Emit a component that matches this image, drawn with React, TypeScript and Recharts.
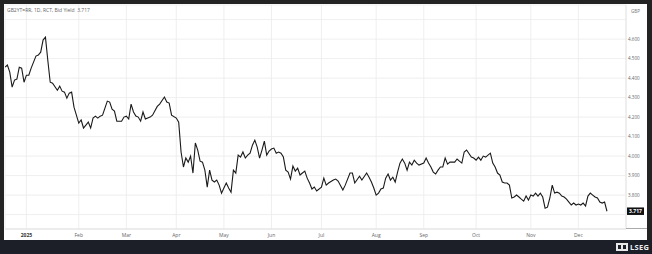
import { LineChart, Line, XAxis, YAxis, CartesianGrid, ReferenceLine } from 'recharts';

// trading-day index (0 = first session of 2025) and bid yield
const tradingDays = [
  -9, -8, -7, -6, -5, -4, -3, -2, -1, 0, 1, 2, 4, 5, 6, 7, 8, 9, 10, 11, 13, 14, 15, 16, 17, 18, 19, 20,
  21, 22, 23, 24, 25, 26, 27, 28, 29, 30, 31, 32, 33, 34, 35, 36, 37, 38, 39, 40, 41, 42, 43, 44, 45, 46,
  47, 48, 49, 50, 51, 52, 53, 55, 56, 58, 59, 60, 61, 63, 64, 65, 66, 67, 68, 69, 70, 71, 72, 73, 74, 75,
  76, 77, 78, 79, 80, 81, 82, 83, 84, 85, 86, 87, 88, 89, 90, 91, 92, 93, 94, 95, 96, 97, 98, 99, 100,
  101, 102, 103, 104, 105, 106, 107, 108, 109, 110, 111, 112, 113, 114, 115, 116, 117, 118, 119, 120,
  121, 122, 124, 125, 126, 127, 129, 130, 131, 133, 134, 136, 137, 138, 140, 141, 143, 144, 145, 146,
  147, 148, 149, 150, 151, 152, 153, 154, 155, 156, 157, 158, 159, 160, 161, 162, 163, 164, 165, 167,
  168, 169, 170, 171, 172, 173, 174, 175, 176, 177, 178, 180, 181, 182, 183, 184, 185, 187, 188, 189,
  190, 191, 192, 193, 194, 195, 196, 197, 198, 199, 200, 201, 202, 203, 204, 205, 206, 207, 208, 209,
  210, 211, 212, 213, 214, 215, 216, 217, 218, 219, 220, 221, 222, 223, 224, 225, 226, 227, 228, 229,
  230, 231, 232, 233, 234, 235, 236, 237, 238, 239, 240, 241, 242, 243, 244,
];

const bidYield = [
  4.456, 4.467, 4.431, 4.354, 4.39, 4.395, 4.456, 4.451, 4.379, 4.415, 4.415, 4.451, 4.513, 4.518, 4.533,
  4.595, 4.61, 4.49, 4.379, 4.374, 4.338, 4.359, 4.333, 4.328, 4.297, 4.323, 4.328, 4.251,
  4.21, 4.169, 4.185, 4.144, 4.159, 4.174, 4.144, 4.195, 4.205, 4.195, 4.205, 4.21, 4.246, 4.282, 4.277,
  4.241, 4.231, 4.179, 4.179, 4.179, 4.2, 4.205, 4.19, 4.267, 4.226, 4.205,
  4.2, 4.179, 4.226, 4.19, 4.195, 4.2, 4.21, 4.255, 4.267, 4.303, 4.277, 4.272, 4.21, 4.195, 4.174, 4.021,
  3.944, 3.99, 3.969, 4.0, 3.913, 4.067, 4.031, 3.974, 3.969, 3.928,
  3.841, 3.928, 3.877, 3.867, 3.877, 3.851, 3.81, 3.836, 3.862, 3.836, 3.815, 3.928, 3.913, 4.005, 3.995,
  4.021, 3.99, 4.005, 4.015, 4.056, 4.082, 4.046, 3.99, 4.031, 4.077,
  4.005, 4.026, 4.036, 4.041, 4.015, 4.021, 4.015, 3.995, 3.928, 3.918, 3.882, 3.949, 3.923, 3.938, 3.903,
  3.913, 3.923, 3.887, 3.862, 3.831,
  3.841, 3.821, 3.841, 3.887, 3.851, 3.862, 3.877, 3.882, 3.872, 3.826, 3.851, 3.913, 3.913, 3.862, 3.897,
  3.877, 3.913, 3.892, 3.867, 3.836,
  3.8, 3.81, 3.831, 3.836, 3.887, 3.908, 3.877, 3.892, 3.867, 3.918, 3.964, 3.985, 3.964, 3.928, 3.969,
  3.954, 3.979, 3.964, 3.954, 3.964,
  3.99, 3.964, 3.944, 3.918, 3.908, 3.928, 3.944, 3.944, 3.99, 3.959, 3.969, 3.969, 3.985, 3.974, 3.964,
  4.021, 4.031, 3.995, 3.99, 3.979,
  3.995, 3.979, 4.0, 3.995, 4.005, 4.015, 3.964, 3.944, 3.913, 3.903, 3.867, 3.862, 3.862, 3.851, 3.785,
  3.79, 3.8, 3.79, 3.779, 3.769,
  3.795, 3.774, 3.8, 3.795, 3.81, 3.795, 3.81, 3.79, 3.733, 3.738, 3.785, 3.851, 3.81, 3.815, 3.81, 3.795,
  3.79, 3.779, 3.764, 3.749,
  3.759, 3.749, 3.754, 3.749, 3.759, 3.744, 3.795, 3.81, 3.8, 3.79, 3.785, 3.764, 3.759, 3.764, 3.717,
];

const monthTicks = [0, 22, 42, 63, 83, 103, 124, 147, 167, 189, 212, 232];
const monthLabels = ['2025', 'Feb', 'Mar', 'Apr', 'May', 'Jun', 'Jul', 'Aug', 'Sep', 'Oct', 'Nov', 'Dec'];
const yieldTicks = [3.7, 3.8, 3.9, 4.0, 4.1, 4.2, 4.3, 4.4, 4.5, 4.6, 4.7];
const lastYield = 3.717;

const chartData = tradingDays.map((d, i) => ({ day: d, bid: bidYield[i] }));

const FONT = '"Open Sans", "Noto Sans", sans-serif';

function MonthTick(props: any) {
  const { x, y, payload } = props;
  const idx = monthTicks.indexOf(payload.value);
  const first = idx === 0;
  return (
    <text x={x} y={y} dy={8} textAnchor="middle" fontSize={5} fontFamily={FONT}
      fill={first ? '#333' : '#666'} fontWeight={first ? 700 : 400}>
      {monthLabels[idx]}
    </text>
  );
}

function YieldTick(props: any) {
  const { x, y, payload } = props;
  // top gridline carries no label; the 3.700 label sits under the price tag
  if (payload.value > 4.65 || payload.value < 3.75) return null;
  return (
    <text x={x} y={y} dy={1.7} textAnchor="start" fontSize={4.6} fontFamily={FONT} fill="#666">
      {payload.value.toFixed(3)}
    </text>
  );
}

function PriceTag(props: any) {
  const vb = props.viewBox;
  if (!vb) return null;
  const x = vb.x + vb.width + 1;
  return (
    <g>
      <rect x={x} y={vb.y - 3.8} width={17} height={7.5} fill="#111" />
      <text x={x + 8.5} y={vb.y} dy={1.8} textAnchor="middle" fontSize={5} fontWeight={700}
        fontFamily={FONT} fill="#fff">
        {lastYield.toFixed(3)}
      </text>
    </g>
  );
}

export default function App() {
  return (
    <div style={{ position: 'absolute', left: 0, top: 0, width: 652, height: 254, background: '#232323', overflow: 'hidden' }}>
      <div style={{ position: 'absolute', left: 0, top: 240, width: 652, height: 14, background: '#1c1f27' }} />
      <div style={{ position: 'absolute', left: 4, top: 4, width: 643, height: 236, background: '#fff' }}>
        <LineChart width={643} height={236} data={chartData} margin={{ top: 1, right: 0, bottom: 0, left: 1 }}>
          <CartesianGrid stroke="#ebebeb" strokeWidth={0.8} />
          <XAxis dataKey="day" type="number" domain={[-9, 252]} ticks={monthTicks} allowDataOverflow
            interval={0} height={11} tickLine={false} tickSize={0} tickMargin={0} tick={<MonthTick />}
            axisLine={{ stroke: '#dcdcdc', strokeWidth: 0.8 }} />
          <YAxis type="number" orientation="right" domain={[3.626, 4.775]} ticks={yieldTicks} allowDataOverflow
            interval={0} width={21} tickLine={false} tickSize={0} tickMargin={2} tick={<YieldTick />}
            axisLine={{ stroke: '#e2e2e2', strokeWidth: 0.8 }} />
          <Line type="linear" dataKey="bid" stroke="#1a1a1a" strokeWidth={1.1} dot={false}
            isAnimationActive={false} />
          <ReferenceLine y={lastYield} stroke="none" label={(p: any) => <PriceTag {...p} />} />
        </LineChart>
        <div style={{ position: 'absolute', left: 3, top: 3, fontFamily: FONT, fontSize: 5, color: '#666', whiteSpace: 'pre' }}>
          {'GB2YT=RR, 1D, RCT, Bid Yield  3.717'}
        </div>
        <div style={{ position: 'absolute', left: 627, top: 4, fontFamily: FONT, fontSize: 4.6, color: '#777' }}>GBP</div>
        <div style={{ position: 'absolute', left: 622, top: 224, width: 21, height: 1, background: '#aaa' }} />
      </div>
      <div style={{ position: 'absolute', left: 616, top: 243, display: 'flex', alignItems: 'center', gap: 2 }}>
        <svg width={12} height={8}>
          <rect x={0} y={0} width={12} height={8} fill="#e8e8e8" />
          <rect x={2} y={2} width={3} height={4} fill="#1c1f27" />
          <rect x={7} y={2} width={3} height={4} fill="#1c1f27" />
        </svg>
        <span style={{ fontFamily: FONT, fontSize: 7.5, fontWeight: 700, color: '#eee', letterSpacing: 0.3, lineHeight: '8px' }}>LSEG</span>
      </div>
    </div>
  );
}
